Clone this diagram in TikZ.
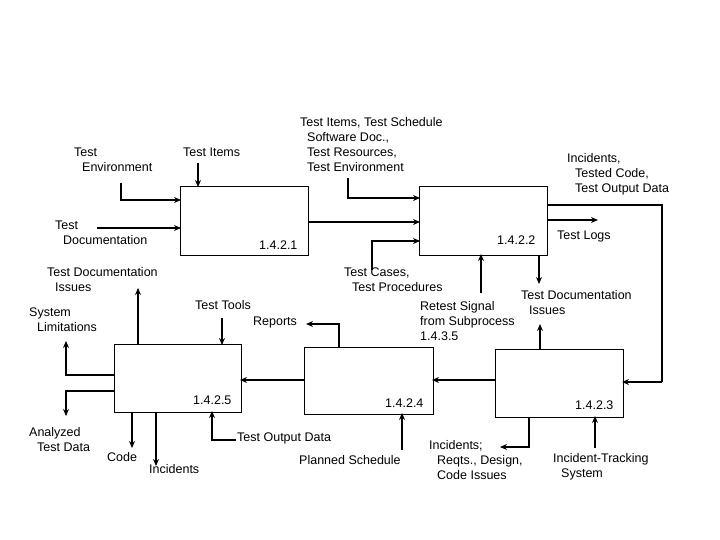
\documentclass[tikz,border=0pt]{standalone}
\usepackage{fontspec}
\setmainfont{Liberation Sans}
\usetikzlibrary{arrows.meta}
\begin{document}
\begin{tikzpicture}[x=1pt,y=-1pt,
  box/.style={draw,line width=0.9pt,minimum width=0pt,inner sep=0pt},
  fl/.style={line width=2.4pt,-{Stealth[length=7pt,width=6pt]}},
  ln/.style={line width=2.4pt},
  lbl/.style={anchor=north west,inner sep=0pt,align=left,font=\fontsize{12.5}{15}\selectfont},
  num/.style={anchor=west,inner sep=0pt,font=\fontsize{12.5}{15}\selectfont}]
\useasboundingbox (0,0) rectangle (720,540);
\newcommand{\ind}{\hspace*{8pt}}
% boxes
\draw[line width=0.9pt] (180,186) rectangle (308,255); \node[num] (nA) at (259,245) {1.4.2.1};
\draw[line width=0.9pt] (419,186) rectangle (547,255); \node[num] (nB) at (497,240) {1.4.2.2};
\draw[line width=0.9pt] (495,349) rectangle (623,417); \node[num] (nC) at (575,405) {1.4.2.3};
\draw[line width=0.9pt] (304,347) rectangle (433,414); \node[num] (nD) at (385,403) {1.4.2.4};
\draw[line width=0.9pt] (114,344) rectangle (241,412); \node[num] (nE) at (193,400) {1.4.2.5};
% labels
\node[lbl] (l1) at (74,148) {Test\\\ind Environment};
\node[lbl] (l2) at (183,148) {Test Items};
\node[lbl] (l3) at (55,221) {Test\\\ind Documentation};
\node[lbl] (l4) at (47,267) {Test Documentation\\\ind Issues};
\node[lbl] (l5) at (29,308) {System\\\ind Limitations};
\node[lbl] (l6) at (195,300) {Test Tools};
\node[lbl] (l7) at (253,317) {Reports};
\node[lbl] (l8) at (300,117) {Test Items, Test Schedule\\\hspace*{7pt}Software Doc.,\\\hspace*{7pt}Test Resources,\\\hspace*{7pt}Test Environment};
\node[lbl] (l9) at (567,153) {Incidents,\\\ind Tested Code,\\\ind Test Output Data};
\node[lbl] (l10) at (557,231) {Test Logs};
\node[lbl] (l11) at (344,268) {Test Cases,\\\ind Test Procedures};
\node[lbl] (l12) at (420,301) {Retest Signal\\from Subprocess\\1.4.3.5};
\node[lbl] (l13) at (521,290) {Test Documentation\\\ind Issues};
\node[lbl] (l14) at (29,427) {Analyzed\\\ind Test Data};
\node[lbl] (l15) at (107,452) {Code};
\node[lbl] (l16) at (149,464) {Incidents};
\node[lbl] (l17) at (237,433) {Test Output Data};
\node[lbl] (l18) at (299,455) {Planned Schedule};
\node[lbl] (l19) at (429,440) {Incidents;\\\ind Reqts., Design,\\\ind Code Issues};
\node[lbl] (l20) at (553,453) {Incident-Tracking\\\ind System};
% connectors
\draw[fl] (198,163) -- (198,187);
\draw[fl] (121,183) -- (121,200) -- (181,200);
\draw[fl] (97,228) -- (181,228);
\draw[fl] (308,222) -- (420,222);
\draw[fl] (348,178) -- (348,198) -- (420,198);
\draw[fl] (372,270) -- (372,241) -- (420,241);
\draw[fl] (481,293) -- (481,254);
\draw[fl] (539,255) -- (539,284);
\draw[fl] (547,220) -- (598,220);
\draw[ln] (547,205) -- (662,205) -- (662,382);
\draw[fl] (662,382) -- (622,382);
\draw[fl] (540,349) -- (540,324);
\draw[fl] (495,380) -- (432,380);
\draw[fl] (529,417) -- (529,447) -- (500,447);
\draw[fl] (595,448) -- (595,416);
\draw[fl] (339,347) -- (339,324) -- (306,324);
\draw[fl] (304,380) -- (240,380);
\draw[fl] (402,450) -- (402,413);
\draw[fl] (236,440) -- (212,440) -- (212,411);
\draw[fl] (222,318) -- (222,345);
\draw[fl] (138,344) -- (138,288);
\draw[fl] (114,375) -- (66,375) -- (66,341);
\draw[fl] (114,391) -- (66,391) -- (66,416);
\draw[fl] (132,412) -- (132,448);
\draw[fl] (156,412) -- (156,466);
\end{tikzpicture}
\end{document}
